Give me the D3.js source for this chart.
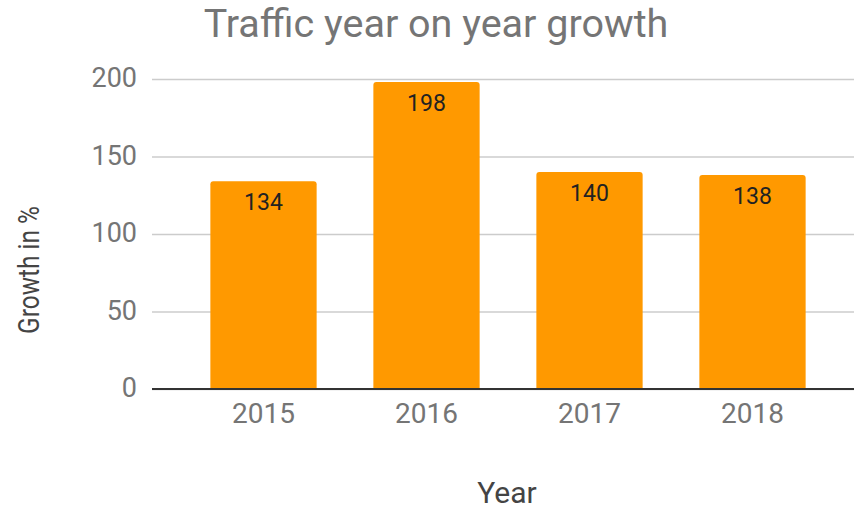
<!DOCTYPE html>
<html>
<head>
<meta charset="utf-8">
<script src="https://cdn.jsdelivr.net/npm/d3@7"></script>
<style>
  html, body { margin: 0; padding: 0; background: #fff; }
  svg { display: block; font-family: Roboto, "Noto Sans", sans-serif; }
</style>
</head>
<body>
<svg id="chart" width="854" height="509"></svg>
<script>
// Yearly traffic growth, in percent
const years = ["2015", "2016", "2017", "2018"];
const growth = [134, 198, 140, 138];
const yTicks = [0, 50, 100, 150, 200];

const titleText = "Traffic year on year growth";
const xTitle = "Year";
const yTitle = "Growth in %";

const svg = d3.select("#chart");

const plot = { left: 152, right: 854, top: 79, bottom: 389 };

const x = d3.scaleBand()
  .domain(years)
  .range([182, 834])
  .paddingInner(0.348)
  .paddingOuter(0.174);

const y = d3.scaleLinear()
  .domain([0, 200])
  .range([plot.bottom, plot.top]);

// Title
svg.append("text")
  .attr("x", 436)
  .attr("y", 37)
  .attr("text-anchor", "middle")
  .attr("fill", "#757575")
  .attr("font-size", 39.5)
  .text(titleText);

// Gridlines and y tick labels
const yAxis = d3.axisLeft(y)
  .tickValues(yTicks)
  .tickSize(-(plot.right - plot.left))
  .tickPadding(15)
  .tickFormat(d3.format("d"));

const gy = svg.append("g")
  .attr("transform", `translate(${plot.left},0)`)
  .call(yAxis);
gy.select(".domain").remove();
gy.selectAll(".tick line")
  .attr("stroke", "#cccccc")
  .attr("stroke-width", 1.5);
gy.selectAll(".tick text")
  .attr("fill", "#757575")
  .attr("font-size", 27)
  .attr("font-family", "Roboto, sans-serif")
  .attr("dy", "0.28em");

// Bars with slightly rounded top corners
const r = 3;
function barPath(d, i) {
  const x0 = x(years[i]);
  const w = x.bandwidth();
  const yt = y(d);
  const yb = y(0);
  return `M${x0},${yb}V${yt + r}Q${x0},${yt} ${x0 + r},${yt}` +
         `H${x0 + w - r}Q${x0 + w},${yt} ${x0 + w},${yt + r}V${yb}Z`;
}

svg.append("g")
  .selectAll("path")
  .data(growth)
  .join("path")
  .attr("d", barPath)
  .attr("fill", "#ff9900");

// Value labels inside the bar tops
svg.append("g")
  .selectAll("text")
  .data(growth)
  .join("text")
  .attr("x", (d, i) => x(years[i]) + x.bandwidth() / 2)
  .attr("y", d => y(d) + 29)
  .attr("text-anchor", "middle")
  .attr("fill", "#222222")
  .attr("font-size", 23)
  .text(d => d);

// Baseline and x tick labels
const xAxis = d3.axisBottom(x).tickSize(0).tickPadding(14);
const gx = svg.append("g")
  .attr("transform", `translate(0,${plot.bottom})`)
  .call(xAxis);
gx.select(".domain").remove();
gx.selectAll(".tick text")
  .attr("fill", "#757575")
  .attr("font-size", 28)
  .attr("font-family", "Roboto, sans-serif");

svg.append("line")
  .attr("x1", plot.left)
  .attr("x2", plot.right)
  .attr("y1", y(0))
  .attr("y2", y(0))
  .attr("stroke", "#333333")
  .attr("stroke-width", 2);

// Axis titles
svg.append("text")
  .attr("x", 507)
  .attr("y", 503)
  .attr("text-anchor", "middle")
  .attr("fill", "#444444")
  .attr("font-size", 30)
  .text(xTitle);

svg.append("text")
  .attr("transform", "translate(39,270) rotate(-90)")
  .attr("text-anchor", "middle")
  .attr("fill", "#444444")
  .attr("font-size", 30)
  .attr("textLength", 128)
  .attr("lengthAdjust", "spacingAndGlyphs")
  .text(yTitle);
</script>
</body>
</html>
